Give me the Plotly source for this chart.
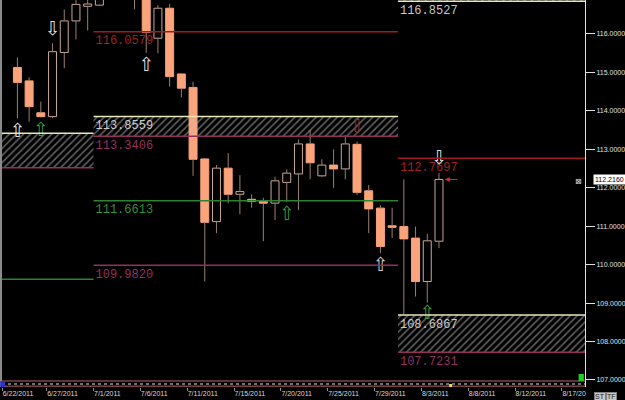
import plotly.graph_objects as go

# ---------------- data ----------------
bar_k = list(range(1, 38))  # bar index (0 = 6/22/2011)
opens = [115.13, 114.78, 113.95, 113.85, 115.52, 116.34, 116.72, 116.75, 117.12, 117.16,
         117.45, 116.95, 115.89, 116.67, 114.96, 114.61, 112.75, 111.12, 112.51, 111.83,
         111.70, 111.66, 111.60, 112.14, 112.36, 113.14, 112.31, 112.59, 112.49, 113.13,
         111.92, 111.47, 111.01, 110.99, 110.69, 109.56, 110.61]
highs = [115.39, 114.87, 114.24, 115.76, 116.64, 116.95, 116.98, 117.15, 117.22, 117.62,
         117.55, 117.05, 116.75, 116.78, 114.97, 114.76, 112.76, 112.59, 112.90, 112.33,
         111.83, 111.74, 112.29, 112.48, 113.26, 113.50, 112.74, 113.00, 113.37, 113.20,
         112.07, 111.55, 111.48, 112.22, 110.99, 110.80, 112.38]
lows = [113.81, 113.72, 113.83, 113.81, 115.11, 115.86, 116.09, 116.73, 117.02, 116.95,
        116.64, 115.51, 115.50, 114.63, 114.35, 112.31, 109.56, 110.82, 111.60, 111.31,
        111.48, 110.61, 111.16, 111.64, 111.42, 112.22, 112.28, 112.00, 112.22, 111.81,
        110.82, 110.30, 110.69, 108.71, 109.17, 109.01, 110.43]
closes = [114.74, 114.11, 113.85, 115.54, 116.34, 116.77, 116.78, 117.10, 117.16, 117.45,
          116.95, 116.04, 116.67, 114.89, 114.59, 112.74, 111.10, 112.51, 111.83, 111.90,
          111.64, 111.60, 112.18, 112.38, 113.14, 112.65, 112.59, 112.49, 113.14, 111.88,
          111.45, 110.47, 110.97, 110.67, 109.56, 110.62, 112.216]

tick_k = [0, 4, 8, 12, 16, 20, 24, 28, 32, 36, 40, 44, 48]
tick_labels = ["6/22/2011", "6/27/2011", "7/1/2011", "7/6/2011", "7/11/2011", "7/15/2011",
               "7/20/2011", "7/25/2011", "7/29/2011", "8/3/2011", "8/8/2011", "8/12/2011", "8/17/20"]
y_ticks = [107, 108, 109, 110, 111, 112, 113, 114, 115, 116]

# horizontal levels: segment boundaries in bar units
seg_left = (-0.5, 7.5)
seg_mid = (7.5, 33.5)
seg_right = (33.5, 50.0)

left_zone = (112.52, 113.417)
left_green = 109.62
mid_red = 116.0579
mid_zone = (113.3406, 113.8559)
mid_green = 111.6613
mid_mag = 109.9820
right_zone_top = (116.8527, 117.6)
right_red = 112.7697
right_zone_bot = (107.7231, 108.6867)

last_price = 112.2160

arrow_k = [1, 3, 4, 12, 24, 30, 32, 37, 36]
arrow_y = [113.45, 113.46, 116.09, 115.17, 111.29, 113.55, 109.95, 112.75, 108.72]
arrow_dir = ["up", "up", "down", "up", "up", "down", "up", "down", "up"]
arrow_col = ["rgba(232,232,232,0.99)", "rgba(63,160,63,0.99)", "rgba(232,232,232,0.99)",
             "rgba(232,232,232,0.99)", "rgba(63,160,63,0.99)", "rgba(160,40,40,0.99)",
             "rgba(216,216,216,0.99)", "rgba(232,232,232,0.99)", "rgba(63,160,63,0.99)"]

# ---------------- colours ----------------
BEAR = "#fba47c"
BULL_LINE = "#c9a898"
WICK = "#9c7e70"
RED = "#a01c1c"
RED_T = "rgba(168,36,36,0.99)"
MAG = "#93305c"
MAG_T = "rgba(156,52,100,0.99)"
GRN = "#2f822f"
GRN_T = "rgba(56,150,58,0.99)"
YEL = "#e8e8b8"
WHT_T = "rgba(208,208,208,0.99)"
HATCH = "#c4c4c4"
LBL_FONT = "Liberation Mono"
LBL_DX = 0.17   # label offset right of segment start (bars)
LBL_DY = 0.09   # label offset below its line (price units)

fig = go.Figure()

def add_labels(items):
    fig.add_trace(go.Scatter(x=[it[0] + LBL_DX for it in items], y=[it[1] - LBL_DY for it in items],
                             mode="text",
                             text=[f"{it[1]:.4f}" for it in items], textposition="bottom right",
                             textfont=dict(family=LBL_FONT, size=12, color=[it[2] for it in items]),
                             hoverinfo="skip"))

# labels that sit under the candles
add_labels([(seg_mid[0], mid_red, RED_T), (seg_mid[0], mid_zone[0], MAG_T),
            (seg_mid[0], mid_green, GRN_T), (seg_mid[0], mid_mag, MAG_T),
            (seg_right[0], right_zone_top[0], WHT_T), (seg_right[0], right_red, RED_T),
            (seg_right[0], right_zone_bot[0], MAG_T)])

# candle bodies as polygons
HW = 0.34
def bodies(idx, fill, line):
    xs, ys = [], []
    for i in idx:
        k = bar_k[i]
        bot = min(opens[i], closes[i])
        top = max(max(opens[i], closes[i]), bot + 0.03)
        xs += [k - HW, k + HW, k + HW, k - HW, k - HW, None]
        ys += [bot, bot, top, top, bot, None]
    fig.add_trace(go.Scatter(x=xs, y=ys, mode="lines", fill="toself", fillcolor=fill,
                             line=dict(color=line, width=1), hoverinfo="skip"))

bear = [i for i in range(len(bar_k)) if closes[i] < opens[i]]
bull = [i for i in range(len(bar_k)) if closes[i] >= opens[i]]
bodies(bear, BEAR, BEAR)
bodies(bull, "#000000", BULL_LINE)

# wicks (outside the bodies)
wx, wy = [], []
for i in range(len(bar_k)):
    top = max(opens[i], closes[i])
    bot = min(opens[i], closes[i])
    if highs[i] > top:
        wx += [bar_k[i], bar_k[i], None]
        wy += [top, highs[i], None]
    if lows[i] < bot:
        wx += [bar_k[i], bar_k[i], None]
        wy += [lows[i], bot, None]
fig.add_trace(go.Scatter(x=wx, y=wy, mode="lines", line=dict(color=WICK, width=1), hoverinfo="skip"))

# hatched zones
def zone(seg, rng):
    x0, x1 = seg
    y0, y1 = rng
    fig.add_trace(go.Scatter(x=[x0, x1, x1, x0, x0], y=[y0, y0, y1, y1, y0], mode="lines",
                             fill="toself", fillcolor="rgba(0,0,0,0)", line=dict(width=0),
                             fillpattern=dict(shape="/", fgcolor=HATCH, bgcolor="rgba(0,0,0,0)",
                                              size=5, solidity=0.3),
                             hoverinfo="skip"))
zone(seg_left, left_zone)
zone(seg_mid, mid_zone)
zone(seg_right, right_zone_top)
zone(seg_right, right_zone_bot)

# labels inside the hatched zones
add_labels([(seg_mid[0], mid_zone[1], WHT_T), (seg_right[0], right_zone_bot[1], WHT_T)])

# arrows
sym = {"up": "⇧", "down": "⇩"}
for d in ("up", "down"):
    idx = [i for i in range(len(arrow_k)) if arrow_dir[i] == d]
    fig.add_trace(go.Scatter(x=[arrow_k[i] for i in idx], y=[arrow_y[i] for i in idx], mode="text",
                             text=[sym[d]] * len(idx), textposition="middle center",
                             textfont=dict(family="DejaVu Sans", size=19, color=[arrow_col[i] for i in idx]),
                             hoverinfo="skip"))

shapes = []
def hline(seg, y, color, w=1.5):
    shapes.append(dict(type="line", xref="x", yref="y", x0=seg[0], x1=seg[1], y0=y, y1=y,
                       line=dict(color=color, width=w), layer="above"))

hline(seg_left, left_zone[1], YEL)
hline(seg_left, left_zone[0], MAG)
hline(seg_left, left_green, GRN)
hline(seg_mid, mid_red, RED)
hline(seg_mid, mid_zone[1], YEL)
hline(seg_mid, mid_zone[0], MAG)
hline(seg_mid, mid_green, GRN)
hline(seg_mid, mid_mag, MAG)
hline(seg_right, right_zone_top[0], YEL)
hline(seg_right, right_red, RED)
hline(seg_right, right_zone_bot[1], YEL)
hline(seg_right, right_zone_bot[0], MAG)

# frame decorations
shapes.append(dict(type="line", xref="paper", yref="paper", x0=-0.0017, x1=-0.0017, y0=0, y1=1,
                   line=dict(color="#8c8c8c", width=2)))
shapes.append(dict(type="line", xref="paper", yref="paper", x0=0, x1=1, y0=6 / 387, y1=6 / 387,
                   line=dict(color="#7a4444", width=1.5)))
shapes.append(dict(type="line", xref="paper", yref="paper", x0=0, x1=1, y0=3 / 387, y1=3 / 387,
                   line=dict(color="#e0e0e0", width=1, dash="dot")))
shapes.append(dict(type="line", xref="paper", yref="paper", x0=0, x1=1, y0=0.7 / 387, y1=0.7 / 387,
                   line=dict(color="#7a4444", width=1.5)))
shapes.append(dict(type="rect", xref="paper", yref="paper", x0=-0.003, x1=0.005, y0=0, y1=6 / 387,
                   fillcolor="#3030d0", line=dict(width=0)))
shapes.append(dict(type="rect", xref="paper", yref="paper", x0=0.767, x1=0.772, y0=0, y1=3 / 387,
                   fillcolor="#e8e060", line=dict(width=0)))
shapes.append(dict(type="rect", xref="paper", yref="paper", x0=0.989, x1=0.998, y0=6 / 387, y1=13 / 387,
                   fillcolor="#20d020", line=dict(width=0)))

annotations = []
# red pointer to last close
annotations.append(dict(x=bar_k[-1] + 0.5, y=closes[-1], xref="x", yref="y", text="", showarrow=True,
                        ax=14, ay=0, arrowhead=2, arrowsize=1, arrowwidth=1, arrowcolor="#c83030"))
# last price box
annotations.append(dict(x=1, y=last_price, xref="paper", yref="y", text=f"{last_price:.4f}",
                        showarrow=False, xanchor="left", xshift=8, bgcolor="#ffffff", borderpad=1,
                        font=dict(family="Liberation Sans", size=7, color="#000000")))
annotations.append(dict(x=1, y=last_price - 0.05, xref="paper", yref="y", text="⊠", showarrow=False,
                        xanchor="right", xshift=-1, font=dict(family="DejaVu Sans", size=8, color="#e0e0e0")))
# ST / TF buttons
for t, xs_ in (("ST", 9), ("TF", 21)):
    annotations.append(dict(x=1, y=0, xref="paper", yref="paper", text=t, showarrow=False,
                            xanchor="left", yanchor="top", xshift=xs_, yshift=-5,
                            bgcolor="#c8c8c8", borderpad=0, bordercolor="#808080", borderwidth=1,
                            font=dict(family="Liberation Sans", size=7, color="#202020")))

tick_pos = [max(k - 0.5, -0.3) for k in tick_k]

fig.update_layout(
    width=625, height=400,
    margin=dict(l=2, r=40, t=0, b=13),
    paper_bgcolor="#000000", plot_bgcolor="#000000",
    showlegend=False,
    shapes=shapes, annotations=annotations,
    xaxis=dict(range=[-0.316, 49.47], tickvals=tick_pos, ticktext=tick_labels,
               ticks="outside", ticklen=3, tickcolor="#909090",
               ticklabelposition="outside right", automargin=False,
               tickfont=dict(family="Liberation Sans", size=7, color="#d8d8d8"),
               showgrid=False, zeroline=False, showline=False, fixedrange=True),
    yaxis=dict(side="right", range=[106.817, 116.884], tickvals=y_ticks, tickformat=".4f",
               ticks="outside", ticklen=9, tickcolor="#e0e0e0", automargin=False,
               tickfont=dict(family="Liberation Sans", size=7, color="#e0e0e0"),
               showline=True, linecolor="#e0e0e0", linewidth=1,
               showgrid=False, zeroline=False, fixedrange=True),
)

fig.write_html("out.html")
